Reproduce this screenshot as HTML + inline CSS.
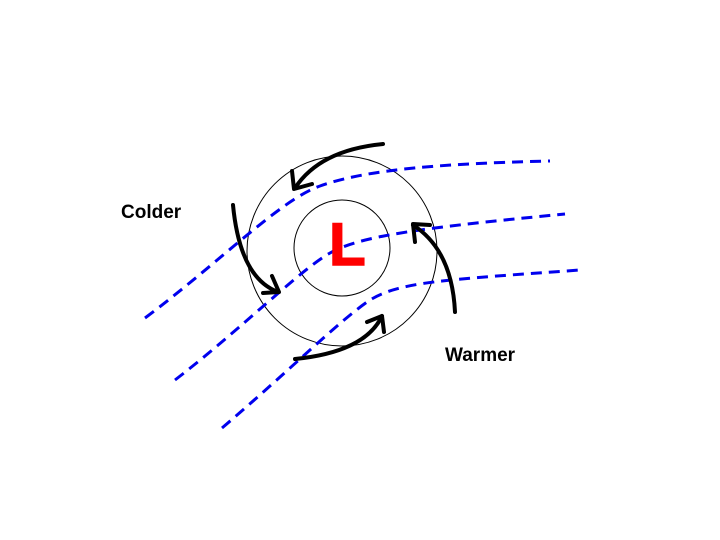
<!DOCTYPE html>
<html><head><style>body{margin:0;background:#fff}svg{display:block}</style></head><body>
<svg width="720" height="540" viewBox="0 0 720 540" xmlns="http://www.w3.org/2000/svg">
<circle cx="342" cy="251" r="95" fill="none" stroke="#000" stroke-width="1"/>
<circle cx="342" cy="248" r="48" fill="none" stroke="#000" stroke-width="1"/>
<g fill="none" stroke="#0000ee" stroke-width="3" stroke-dasharray="11,7">
<path d="M145,318 C220,262 280,200 320,186 C360,172 420,164 550,161"/>
<path d="M175,380 C240,330 300,270 330,253 C360,236 420,228 565,214"/>
<path d="M222,428 C290,370 340,320 370,300 C400,282 440,280 580,270"/>
</g>
<text x="329" y="265" font-family="Liberation Sans, sans-serif" font-weight="900" font-size="60" fill="#ff0000" stroke="#ff0000" stroke-width="1.5">L</text>
<g fill="none" stroke="#000" stroke-width="4" stroke-linecap="round" stroke-linejoin="round">
<path d="M383,144 Q320,150 295,188"/>
<path d="M292,171 L294,189 L312,184"/>
<path d="M233,205 Q240,278 278,292"/>
<path d="M263,293 L279,292 L272,276"/>
<path d="M295,359 Q365,352 382,316"/>
<path d="M367,322 L382,316 L384,332"/>
<path d="M455,312 Q452,250 413,225"/>
<path d="M415,242 L413,224 L430,225"/>
</g>
<text x="121" y="218" font-family="Liberation Sans, sans-serif" font-weight="bold" font-size="19">Colder</text>
<text x="445" y="361" font-family="Liberation Sans, sans-serif" font-weight="bold" font-size="19">Warmer</text>
</svg>
</body></html>
